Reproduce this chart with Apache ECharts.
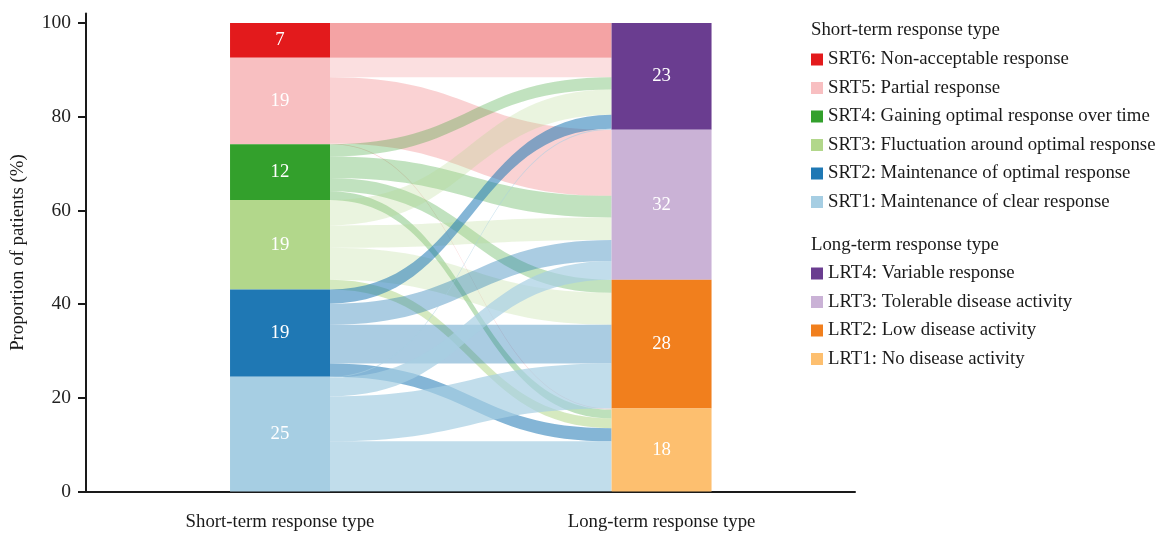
<!DOCTYPE html>
<html><head><meta charset="utf-8">
<script src="https://cdn.jsdelivr.net/npm/echarts@6/dist/echarts.min.js"></script>
<style>html,body{margin:0;padding:0;background:#fff}#chart{width:1159px;height:535px}</style>
</head><body><div id="chart"></div>
<script>
// ---- data ----
const shortNames = ['SRT1: Maintenance of clear response', 'SRT2: Maintenance of optimal response', 'SRT3: Fluctuation around optimal response', 'SRT4: Gaining optimal response over time', 'SRT5: Partial response', 'SRT6: Non-acceptable response'];
const longNames = ['LRT1: No disease activity', 'LRT2: Low disease activity', 'LRT3: Tolerable disease activity', 'LRT4: Variable response'];
// percent of patients flowing from each short-term type to LRT1..LRT4
const flowSRT1 = [10.7, 9.6, 4.0, 0.2];
const flowSRT2 = [2.8, 8.3, 4.5, 3.0];
const flowSRT3 = [2.1, 6.8, 4.8, 5.4];
const flowSRT4 = [1.9, 2.8, 4.6, 2.6];
const flowSRT5 = [0.2, 0, 14.1, 4.2];
const flowSRT6 = [0, 0, 0, 7.4];
const shortLabels = [25, 19, 19, 12, 19, 7];
const longLabels = [18, 28, 32, 23];
const yTicks = [0, 20, 40, 60, 80, 100];
const axisTitles = ['Short-term response type', 'Long-term response type'];
const legendTitles = ['Short-term response type', 'Long-term response type'];
const yName = 'Proportion of patients (%)';

// ---- style ----
const FONT = '"Liberation Serif", "Times New Roman", serif';
const FS = 18.8;
const TXT = '#1a1a1a';
const NODE_HALF = 0.131;
const srtColors = ['#a6cee3', '#1f78b4', '#b2d78b', '#33a02c', '#f8bfc1', '#e31a1c'];
const lrtColors = ['#fdbf6f', '#f17f1d', '#cab2d6', '#6a3d90'];
const flowOpacity = [
  [0.7, 0.7, 0.7, 0.6],
  [0.55, 0.38, 0.38, 0.55],
  [0.55, 0.28, 0.28, 0.28],
  [0.32, 0.3, 0.3, 0.3],
  [0.7, 0.7, 0.7, 0.5],
  [0.4, 0.4, 0.4, 0.4]
];

const flows = [flowSRT1, flowSRT2, flowSRT3, flowSRT4, flowSRT5, flowSRT6];
const srtTotals = flows.map(r => r.reduce((a, b) => a + b, 0));
const lrtTotals = longNames.map((_, j) => flows.reduce((a, r) => a + r[j], 0));
function stackBases(t) { const b = []; let acc = 0; t.forEach(v => { b.push(acc); acc += v; }); return b; }
const srtBase = stackBases(srtTotals);
const lrtBase = stackBases(lrtTotals);
const leftOff = srtBase.slice(), rightOff = lrtBase.slice();
const pos = flows.map(r => r.map(() => ({})));
flows.forEach((r, i) => r.forEach((v, j) => { pos[i][j].l0 = leftOff[i]; leftOff[i] += v; pos[i][j].l1 = leftOff[i]; }));
longNames.forEach((_, j) => flows.forEach((r, i) => { pos[i][j].r0 = rightOff[j]; rightOff[j] += r[j]; pos[i][j].r1 = rightOff[j]; }));

function hexRgba(hex, a) {
  const n = parseInt(hex.slice(1), 16);
  return 'rgba(' + (n >> 16 & 255) + ',' + (n >> 8 & 255) + ',' + (n & 255) + ',' + a + ')';
}

function nodeEl(api, xc, bottom, top, color, label) {
  const p0 = api.coord([xc - NODE_HALF, top]);
  const p1 = api.coord([xc + NODE_HALF, bottom]);
  return {
    type: 'group', children: [
      { type: 'rect', shape: { x: p0[0], y: p0[1], width: p1[0] - p0[0], height: p1[1] - p0[1] }, style: { fill: color } },
      { type: 'text', x: (p0[0] + p1[0]) / 2, y: (p0[1] + p1[1]) / 2, style: { text: String(label), fill: '#fff', font: FS + 'px ' + FONT, align: 'center', verticalAlign: 'middle' } }
    ]
  };
}

const series = [];
for (let i = 5; i >= 0; i--) {
  const items = [0, 1, 2, 3, 4]; // 0..3 flows, 4 node
  series.push({
    type: 'custom', name: shortNames[i], itemStyle: { color: srtColors[i] },
    data: items, silent: true, clip: false,
    renderItem: (params, api) => {
      const k = params.dataIndex;
      if (k === 4) return nodeEl(api, 0, srtBase[i], srtBase[i] + srtTotals[i], srtColors[i], shortLabels[i]);
      const v = flows[i][k];
      if (!v) return null;
      const p = pos[i][k];
      const xa = api.coord([NODE_HALF, 0])[0], xb = api.coord([1 - NODE_HALF, 0])[0];
      const yl0 = api.coord([0, p.l0])[1], yl1 = api.coord([0, p.l1])[1];
      const yr0 = api.coord([1, p.r0])[1], yr1 = api.coord([1, p.r1])[1];
      const cx = (xa + xb) / 2;
      const d = 'M' + xa + ',' + yl1 + ' C' + cx + ',' + yl1 + ' ' + cx + ',' + yr1 + ' ' + xb + ',' + yr1 +
        ' L' + xb + ',' + yr0 + ' C' + cx + ',' + yr0 + ' ' + cx + ',' + yl0 + ' ' + xa + ',' + yl0 + ' Z';
      return { type: 'path', shape: { pathData: d }, style: { fill: hexRgba(srtColors[i], flowOpacity[i][k]) } };
    }
  });
}
for (let j = 3; j >= 0; j--) {
  series.push({
    type: 'custom', name: longNames[j], itemStyle: { color: lrtColors[j] },
    data: [0], silent: true, clip: false,
    renderItem: (params, api) => nodeEl(api, 1, lrtBase[j], lrtBase[j] + lrtTotals[j], lrtColors[j], longLabels[j])
  });
}

const legendCommon = {
  orient: 'vertical', left: 811, padding: 0, itemWidth: 12, itemHeight: 12, itemGap: 9.5, icon: 'rect',
  selectedMode: false, textStyle: { fontFamily: FONT, fontSize: FS, color: TXT, lineHeight: 18 }
};
const titleStyle = { fontFamily: FONT, fontSize: FS, fontWeight: 'normal', color: TXT, lineHeight: 18 };

const chart = echarts.init(document.getElementById('chart'));
chart.setOption({
  animation: false,
  backgroundColor: '#fff',
  title: [
    { text: legendTitles[0], left: 811, top: 21, padding: 0, textStyle: titleStyle },
    { text: legendTitles[1], left: 811, top: 236, padding: 0, textStyle: titleStyle }
  ],
  legend: [
    Object.assign({}, legendCommon, { top: 50, data: shortNames.slice().reverse() }),
    Object.assign({}, legendCommon, { top: 264, data: longNames.slice().reverse() })
  ],
  grid: { left: 86, right: 304, top: 13.6, bottom: 43.5 },
  xAxis: {
    type: 'value', min: -0.5085, max: 1.507,
    axisLine: { show: true, onZero: false, lineStyle: { color: TXT, width: 2 } },
    axisTick: { show: false }, splitLine: { show: false },
    axisLabel: { customValues: [0, 1], formatter: v => axisTitles[Math.round(v)], fontFamily: FONT, fontSize: FS, color: TXT, margin: 21 }
  },
  yAxis: {
    type: 'value', min: 0, max: 102,
    axisLine: { show: true, onZero: false, lineStyle: { color: TXT, width: 2 } },
    axisTick: { show: true, customValues: yTicks, length: 8, lineStyle: { color: TXT, width: 2 } },
    axisLabel: { customValues: yTicks, fontFamily: FONT, fontSize: 19.5, color: '#222', margin: 15 },
    splitLine: { show: false },
    name: yName, nameLocation: 'middle', nameGap: 58,
    nameTextStyle: { fontFamily: FONT, fontSize: FS, color: TXT }
  },
  series: series
});
</script></body></html>
